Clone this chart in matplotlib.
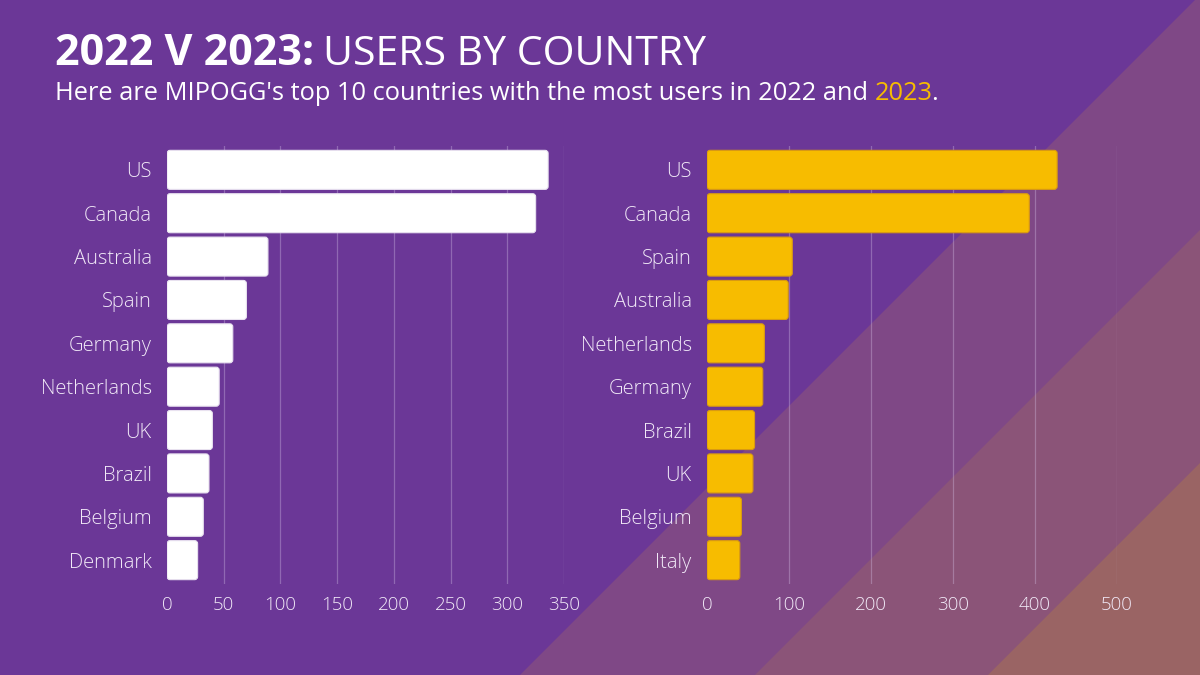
import matplotlib
matplotlib.use("Agg")
import matplotlib.pyplot as plt
from matplotlib.patches import Polygon, FancyBboxPatch
from matplotlib.text import Annotation

# data
countries_2022 = ["US", "Canada", "Australia", "Spain", "Germany",
                  "Netherlands", "UK", "Brazil", "Belgium", "Denmark"]
users_2022 = [336, 325, 89, 70, 58, 46, 40, 37, 32, 27]
ticks_2022 = [0, 50, 100, 150, 200, 250, 300, 350]

countries_2023 = ["US", "Canada", "Spain", "Australia", "Netherlands",
                  "Germany", "Brazil", "UK", "Belgium", "Italy"]
users_2023 = [427, 393, 104, 99, 70, 68, 58, 56, 42, 40]
ticks_2023 = [0, 100, 200, 300, 400, 500]

BG = "#6b3797"
BANDS = ["#7f4886", "#8b5478", "#9a6464"]
YELLOW = "#f7bc00"
TICK_COL = "#f1e9f7"
FONT = "Open Sans"

plt.rcParams["font.family"] = [FONT, "DejaVu Sans"]

W, H = 1200, 675
fig = plt.figure(figsize=(12, 6.75), dpi=100)
fig.patch.set_facecolor(BG)

# diagonal background bands (x + y = const in pixel space, y from top)
for c, col in zip([1195, 1430, 1663], BANDS):
    pts = [(c - H, H), (W, c - W), (W, H)] if c - W > 0 else [(c - H, H), (c, 0), (W, 0), (W, H)]
    pts = [(x / W, 1 - y / H) for x, y in pts]
    fig.patches.append(Polygon(pts, closed=True, transform=fig.transFigure,
                               facecolor=col, edgecolor="none", zorder=-5))


def panel(rect, names, vals, ticks, color, edge):
    ax = fig.add_axes(rect)
    ax.set_facecolor("none")
    pos = list(range(len(names)))
    bars = ax.barh(pos, vals, height=0.9, color=color)
    ax.set_xlim(ticks[0], ticks[-1])
    ax.set_ylim(len(names) - 0.45, -0.55)
    # rounded bar corners
    px_x = (ticks[-1] - ticks[0]) / (rect[2] * W)
    px_y = (len(names) + 0.1) / (rect[3] * H)
    r = 3 * px_x
    for b in bars:
        x, y = b.get_x(), b.get_y()
        w, h = b.get_width(), b.get_height()
        b.set_visible(False)
        ax.add_patch(FancyBboxPatch((x, y), w, h,
                                    boxstyle=f"round,pad=0,rounding_size={r}",
                                    mutation_aspect=px_y / px_x,
                                    facecolor=color, edgecolor=edge,
                                    linewidth=0.8, zorder=3))
    ax.set_yticks(pos)
    ax.set_yticklabels(names)
    ax.set_xticks(ticks)
    ax.tick_params(axis="y", length=0, pad=11, labelsize=14.5, labelcolor=TICK_COL)
    ax.tick_params(axis="x", length=0, pad=9, labelsize=13.5, labelcolor=TICK_COL)
    for s in ax.spines.values():
        s.set_visible(False)
    for t in ticks[1:]:
        ax.axvline(t, color="#d8c6ea", alpha=0.35, linewidth=0.9, zorder=1)
    for lab in ax.get_xticklabels() + ax.get_yticklabels():
        lab.set_fontweight("light")
    return ax


ax1 = panel([167 / W, 1 - 584 / H, 397 / W, 438 / H],
            countries_2022, users_2022, ticks_2022, "white", "#e9e2f0")
ax2 = panel([707 / W, 1 - 584 / H, 410 / W, 438 / H],
            countries_2023, users_2023, ticks_2023, YELLOW, "#d99a12")

# title and subtitle
t1 = fig.text(55 / W, 1 - 65 / H, "2022 V 2023:", color="white",
              fontsize=31, fontweight="bold", va="baseline")
fig.add_artist(Annotation("USERS BY COUNTRY", xy=(1, 0), xycoords=t1,
                          xytext=(6, 0), textcoords="offset points",
                          color="white", fontsize=29.5, va="bottom"))

s1 = fig.text(55 / W, 1 - 100 / H,
              "Here are MIPOGG's top 10 countries with the most users in 2022 and ",
              color="white", fontsize=18.3, va="baseline")
s2 = Annotation("2023", xy=(1, 0), xycoords=s1, xytext=(0, 0),
                textcoords="offset points", color=YELLOW, fontsize=18.3, va="bottom")
fig.add_artist(s2)
fig.add_artist(Annotation(".", xy=(1, 0), xycoords=s2, xytext=(-1.5, 0),
                          textcoords="offset points", color="white",
                          fontsize=18.3, va="bottom"))

fig.savefig("out.png", dpi=100, facecolor=BG)
